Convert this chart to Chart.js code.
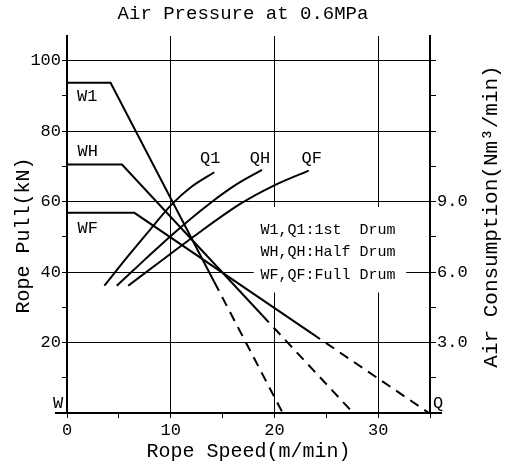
<!DOCTYPE html>
<html>
<head>
<meta charset="utf-8">
<script src="https://cdn.jsdelivr.net/npm/chart.js@4.4.1/dist/chart.umd.min.js"></script>
<style>
  html, body { margin: 0; padding: 0; background: #fff; }
</style>
</head>
<body>
<canvas id="chart" width="510" height="470"></canvas>
<script>
// Rope pull (kN) vs rope speed (m/min); last segment is dashed
const w1Speed = [0, 4.2, 14.2, 20.8];
const w1Pull = [93.7, 93.7, 37.2, 0];
const whSpeed = [0, 5.3, 18.8, 27.6];
const whPull = [70.5, 70.5, 27.8, 0];
const wfSpeed = [0, 6.5, 23.6, 34.9];
const wfPull = [56.8, 56.8, 22.6, 0];

// Air consumption (Nm3/min) vs rope speed
const q1Speed = [3.6, 6, 8, 10.1, 12, 14.2];
const q1Air = [5.42, 6.74, 7.80, 8.88, 9.63, 10.25];
const qhSpeed = [4.8, 7.5, 10.5, 13.8, 16.3, 18.8];
const qhAir = [5.42, 6.53, 7.73, 8.93, 9.72, 10.35];
const qfSpeed = [5.9, 9, 12, 16.7, 19.8, 23.3];
const qfAir = [5.42, 6.45, 7.44, 8.90, 9.65, 10.32];

// tick labels
const speedTicks = [0, 10, 20, 30];
const pullTicks = [20, 40, 60, 80, 100];
const airTicks = [3.0, 6.0, 9.0];

const keyLines = ['W1,Q1:1st  Drum', 'WH,QH:Half Drum', 'WF,QF:Full Drum'];

const FONT = '"Liberation Mono", "DejaVu Sans Mono", monospace';
const PULL_MAX = 107;
const AIR_PER_KN = 0.15;

function pts(xs, ys) {
    return xs.map((x, i) => ({ x: x, y: ys[i] }));
}

function dashFrom(n) {
    return ctx => ctx.p0DataIndex >= n ? [10, 7] : undefined;
}

function pullLine(xs, ys) {
    return {
        data: pts(xs, ys),
        yAxisID: 'y',
        borderColor: '#000',
        borderWidth: 2,
        pointRadius: 0,
        fill: false,
        segment: { borderDash: dashFrom(2) }
    };
}

function airLine(xs, ys) {
    return {
        data: pts(xs, ys),
        yAxisID: 'y2',
        borderColor: '#000',
        borderWidth: 2,
        pointRadius: 0,
        fill: false,
        cubicInterpolationMode: 'monotone'
    };
}

const annotate = {
    id: 'annotate',
    beforeDatasetsDraw(chart) {
        // white patch behind the drum key, hides the grid there
        const { ctx, scales: { x, y } } = chart;
        const l = x.getPixelForValue(18), r = x.getPixelForValue(32.7);
        const t = y.getPixelForValue(58.5), b = y.getPixelForValue(34.2);
        ctx.save();
        ctx.fillStyle = '#fff';
        ctx.fillRect(l, t, r - l, b - t);
        ctx.restore();
    },
    afterDraw(chart) {
        const { ctx, chartArea: area, scales: { x, y } } = chart;
        ctx.save();
        ctx.fillStyle = '#000';
        ctx.strokeStyle = '#000';

        // bottom axis runs a little past both vertical axes
        ctx.lineWidth = 2;
        ctx.beginPath();
        ctx.moveTo(area.left - 12, area.bottom);
        ctx.lineTo(area.right + 12, area.bottom);
        ctx.stroke();

        ctx.textAlign = 'center';
        ctx.textBaseline = 'middle';
        ctx.font = '17px ' + FONT;
        const names = [
            { t: 'W1', x: 1.95, y: 89.8 },
            { t: 'WH', x: 2.0, y: 74.1 },
            { t: 'WF', x: 2.0, y: 52.3 },
            { t: 'Q1', x: 13.8, y: 72.2 },
            { t: 'QH', x: 18.6, y: 72.2 },
            { t: 'QF', x: 23.6, y: 72.2 }
        ];
        names.forEach(n => ctx.fillText(n.t, x.getPixelForValue(n.x), y.getPixelForValue(n.y)));
        ctx.fillText('W', area.left - 9, area.bottom - 10);
        ctx.fillText('Q', area.right + 8, area.bottom - 10);

        // drum key
        ctx.textAlign = 'left';
        ctx.font = '15px ' + FONT;
        const kx = x.getPixelForValue(18.65);
        keyLines.forEach((s, i) => ctx.fillText(s, kx, y.getPixelForValue(52) + i * 22.5));

        // vertical axis titles, both read bottom to top
        ctx.textAlign = 'center';
        ctx.font = '20px ' + FONT;
        const mid = (area.top + area.bottom) / 2;
        ctx.save();
        ctx.translate(24, mid + 11);
        ctx.rotate(-Math.PI / 2);
        ctx.fillText('Rope Pull(kN)', 0, 0);
        ctx.restore();
        ctx.save();
        ctx.translate(chart.width - 19, mid - 8);
        ctx.rotate(-Math.PI / 2);
        ctx.font = '21px ' + FONT;
        ctx.fillText('Air Consumption(Nm³/min)', 0, 0);
        ctx.restore();

        ctx.restore();
    }
};

new Chart(document.getElementById('chart'), {
    type: 'line',
    data: {
        datasets: [
            pullLine(w1Speed, w1Pull),
            pullLine(whSpeed, whPull),
            pullLine(wfSpeed, wfPull),
            airLine(q1Speed, q1Air),
            airLine(qhSpeed, qhAir),
            airLine(qfSpeed, qfAir)
        ]
    },
    options: {
        responsive: false,
        devicePixelRatio: 1,
        animation: false,
        layout: { padding: { left: 0, right: 24, top: 0, bottom: 0 } },
        plugins: {
            legend: { display: false },
            tooltip: { enabled: false },
            title: {
                display: true,
                text: 'Air Pressure at 0.6MPa',
                color: '#000',
                font: { family: FONT, size: 19, weight: 'normal' },
                padding: { top: 3, bottom: 10.2 }
            }
        },
        scales: {
            x: {
                type: 'linear',
                min: 0,
                max: 35,
                afterFit: s => { s.height = 57; },
                ticks: {
                    stepSize: 5,
                    autoSkip: false,
                    maxRotation: 0,
                    padding: 2,
                    color: '#000',
                    font: { family: FONT, size: 17 },
                    callback: v => speedTicks.includes(v) ? String(v) : ''
                },
                grid: {
                    color: c => (c.tick && c.tick.value % 10 === 0 && c.tick.value > 0 && c.tick.value < 35) ? '#000' : 'rgba(0,0,0,0)',
                    tickColor: '#000',
                    tickLength: 5,
                    lineWidth: 1
                },
                border: { display: true, color: '#000', width: 2 },
                title: {
                    display: true,
                    text: 'Rope Speed(m/min)',
                    color: '#000',
                    font: { family: FONT, size: 20 },
                    padding: { top: 0, bottom: 6 }
                }
            },
            y: {
                type: 'linear',
                position: 'left',
                min: 0,
                max: PULL_MAX,
                afterFit: s => { s.width = 67; },
                afterBuildTicks: s => { s.ticks = s.ticks.filter(t => t.value % 10 === 0); },
                ticks: {
                    stepSize: 10,
                    autoSkip: false,
                    padding: 1,
                    color: '#000',
                    font: { family: FONT, size: 17 },
                    callback: v => pullTicks.includes(v) ? String(v) : ''
                },
                grid: {
                    color: c => (c.tick && pullTicks.includes(c.tick.value)) ? '#000' : 'rgba(0,0,0,0)',
                    tickColor: '#000',
                    tickLength: 5,
                    lineWidth: 1
                },
                border: { display: true, color: '#000', width: 2 }
            },
            y2: {
                type: 'linear',
                position: 'right',
                min: 0,
                max: PULL_MAX * AIR_PER_KN,
                afterFit: s => { s.width = 56; },
                afterBuildTicks: s => {
                    s.ticks = [1, 2, 3, 4, 5, 6, 7, 8, 9, 10].map(i => ({ value: i * 1.5 }));
                },
                ticks: {
                    autoSkip: false,
                    padding: 1,
                    color: '#000',
                    font: { family: FONT, size: 17 },
                    callback: v => airTicks.includes(Math.round(v * 10) / 10) ? v.toFixed(1) : ''
                },
                grid: {
                    drawOnChartArea: false,
                    tickColor: '#000',
                    tickLength: 6,
                    lineWidth: 1
                },
                border: { display: true, color: '#000', width: 2 }
            }
        }
    },
    plugins: [annotate]
});
</script>
</body>
</html>
